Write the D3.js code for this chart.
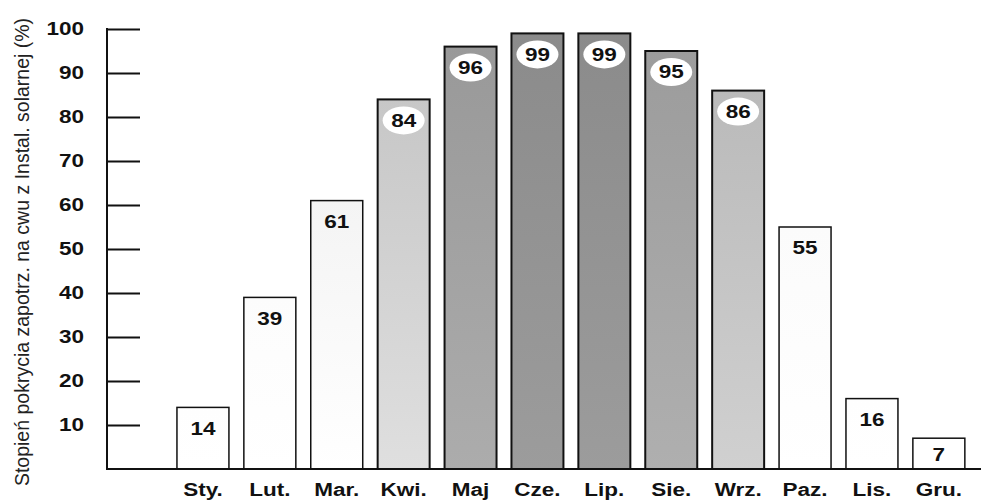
<!DOCTYPE html>
<html>
<head>
<meta charset="utf-8">
<script src="https://cdn.jsdelivr.net/npm/d3@7"></script>
<style>
  html, body { margin: 0; padding: 0; background: #fff; }
  svg { display: block; }
  text { font-family: "Liberation Sans", Arial, sans-serif; }
</style>
</head>
<body>
<svg id="chart" width="981" height="501"></svg>
<script>
const months = ["Sty.", "Lut.", "Mar.", "Kwi.", "Maj", "Cze.", "Lip.", "Sie.", "Wrz.", "Paz.", "Lis.", "Gru."];
const values = [14, 39, 61, 84, 96, 99, 99, 95, 86, 55, 16, 7];
const yTicks = [10, 20, 30, 40, 50, 60, 70, 80, 90, 100];
const yTitle = "Stopień pokrycia zapotrz. na cwu z Instal. solarnej (%)";

const W = 981, H = 501;
const SX = 1.25; // horizontal stretch of the bold labels
const svg = d3.select("#chart");

const x = d3.scaleBand().domain(months).range([143.5, 998.3]).paddingInner(0.223).paddingOuter(0.5);
const y = d3.scaleLinear().domain([0, 100]).range([469, 29]);

// shading by value (greyscale)
const shade = d3.scaleLinear()
  .domain([0, 56, 62, 84, 88, 96, 100])
  .range(["#ffffff", "#fbfbfb", "#f3f3f3", "#d0d0d0", "#b4b4b4", "#a0a0a0", "#8c8c8c"])
  .clamp(true);

const defs = svg.append("defs");
values.forEach((v, i) => {
  const c = d3.color(shade(v));
  const g = defs.append("linearGradient").attr("id", "g" + i)
    .attr("x1", 0).attr("y1", 0).attr("x2", 0).attr("y2", 1);
  g.append("stop").attr("offset", "0%").attr("stop-color", v > 80 ? c.darker(0.12) : c);
  g.append("stop").attr("offset", "100%").attr("stop-color", v > 80 ? c.brighter(0.2) : "#ffffff");
});

// bars
const bars = svg.append("g");
bars.selectAll("rect").data(values).join("rect")
  .attr("x", (d, i) => x(months[i]))
  .attr("y", d => y(d))
  .attr("width", x.bandwidth())
  .attr("height", d => y(0) - y(d))
  .attr("fill", (d, i) => `url(#g${i})`)
  .attr("stroke", "#111")
  .attr("stroke-width", d => d > 80 ? 2 : 1.5);

// labels
const labels = svg.append("g");
values.forEach((v, i) => {
  const cx = x(months[i]) + x.bandwidth() / 2;
  const cy = Math.min(y(v) + 21, (y(v) + y(0)) / 2 + 1);
  if (v > 80) {
    labels.append("ellipse").attr("cx", cx).attr("cy", cy).attr("rx", 21).attr("ry", 14)
      .attr("fill", "#fff");
  }
  labels.append("text").attr("transform", `translate(${cx},${cy}) scale(${SX},1)`)
    .attr("dy", "0.36em")
    .attr("text-anchor", "middle").attr("font-size", 18).attr("font-weight", "bold")
    .attr("fill", "#111").text(v);
});

// y axis
const yAxis = svg.append("g").attr("transform", `translate(107,0)`)
  .call(d3.axisRight(y).tickValues(yTicks).tickSize(33).tickFormat(""));
yAxis.select(".domain").remove();
yAxis.selectAll(".tick line").attr("stroke", "#111").attr("stroke-width", 2);
svg.append("line").attr("x1", 107).attr("x2", 107).attr("y1", y(100) - 1).attr("y2", y(0) + 1)
  .attr("stroke", "#111").attr("stroke-width", 2);
svg.append("g").selectAll("text").data(yTicks).join("text")
  .attr("transform", d => `translate(84,${y(d)}) scale(${SX},1)`)
  .attr("dy", "0.36em")
  .attr("text-anchor", "end").attr("font-size", 18).attr("font-weight", "bold")
  .attr("fill", "#111").text(d => d);

// x axis
const xAxis = svg.append("g").attr("transform", `translate(0,${y(0)})`)
  .call(d3.axisBottom(x).tickSize(0).tickPadding(14));
xAxis.select(".domain").remove();
xAxis.selectAll("text").attr("font-size", 18).attr("font-weight", "bold")
  .attr("transform", `scale(${SX},1)`)
  .attr("fill", "#111").attr("font-family", "Liberation Sans, Arial, sans-serif");
svg.append("line").attr("x1", 107).attr("x2", W).attr("y1", y(0)).attr("y2", y(0))
  .attr("stroke", "#111").attr("stroke-width", 2.2);

// y title
svg.append("text").attr("transform", `translate(29,252) rotate(-90)`)
  .attr("text-anchor", "middle").attr("font-size", 19.5).attr("fill", "#222")
  .text(yTitle);
</script>
</body>
</html>
